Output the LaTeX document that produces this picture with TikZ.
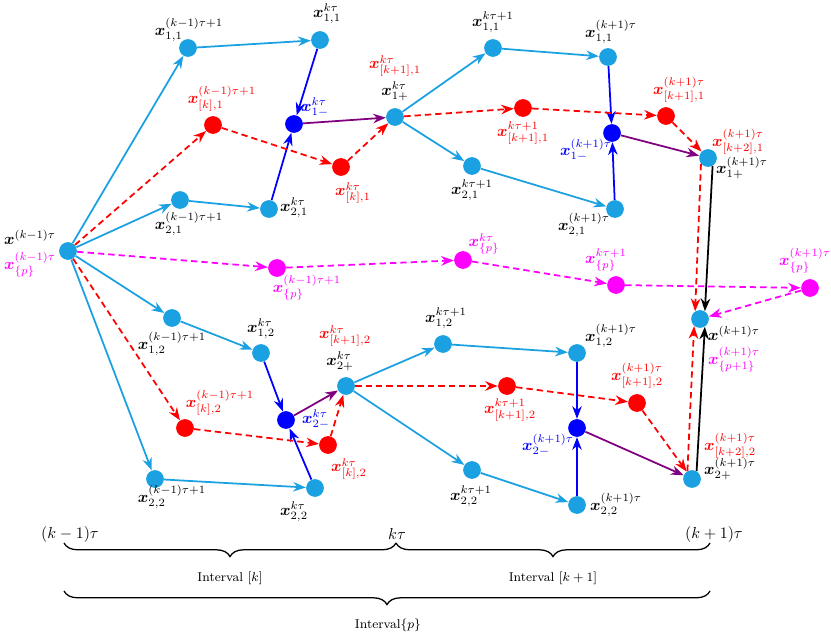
\documentclass[tikz,border=0pt]{standalone}
\usepackage{amsmath}
\usepackage{amssymb}
\usepackage{bm}
\usetikzlibrary{arrows.meta, positioning, decorations.pathreplacing}

\definecolor{ptcyan}{RGB}{27,161,226}
\definecolor{ptpurple}{RGB}{128,0,128}
\definecolor{ptmagenta}{RGB}{255,0,255}
\newcommand{\vx}{\boldsymbol{x}}

\tikzset{
    pt/.style={circle,fill=ptcyan,minimum size=0.39cm,inner sep=0pt},
    ptblue/.style={pt,fill=blue},
    ptred/.style={pt,fill=red},
    ptmag/.style={pt,fill=ptmagenta},
    lbl/.style={inner sep=0pt},
    cy/.style={-{Stealth},line width=1.1pt,ptcyan},
    bl/.style={-{Stealth},line width=1.1pt,blue},
    pu/.style={-{Stealth},line width=1.1pt,ptpurple},
    bk/.style={-{Stealth},line width=1.1pt,black},
    rd/.style={-{Stealth},line width=1.1pt,red,dash pattern=on 4pt off 2.5pt},
    mg/.style={-{Stealth},line width=1.1pt,ptmagenta,dash pattern=on 4pt off 2.5pt},
    brc/.style={decorate,decoration={brace,mirror,amplitude=8.5pt},thick}
}

\begin{document}
\begin{tikzpicture}[x=0.022cm,y=-0.022cm]
    \useasboundingbox (0,0) rectangle (831,636);

    % Punto iniziale
    \node[pt] (A0) at (68,251) {};
    \node[lbl] (A0l) at ([shift={(-38,-14)}]A0) {$\vx^{(k-1)\tau}$};
    \node[lbl,ptmagenta] (A0p) at ([shift={(-38,14)}]A0) {$\vx^{(k-1)\tau}_{\{p\}}$};

    % Intervallo [k], gruppo 1
    \node[pt] (a11) at (188,48) {};
    \node[lbl] (a11l) at ([shift={(1,-18)}]a11) {$\vx^{(k-1)\tau+1}_{1,1}$};
    \node[pt] (a21) at (180,200) {};
    \node[lbl] (a21l) at ([shift={(9,24)}]a21) {$\vx^{(k-1)\tau+1}_{2,1}$};
    \node[ptred] (r1) at (213,125) {};
    \node[lbl,red] (r1l) at ([shift={(9,-26)}]r1) {$\vx^{(k-1)\tau+1}_{[k],1}$};
    \node[pt] (b11) at (320,40) {};
    \node[lbl] (b11l) at ([shift={(7,-26)}]b11) {$\vx^{k\tau}_{1,1}$};
    \node[pt] (b21) at (269,209) {};
    \node[lbl] (b21l) at ([shift={(25,-1)}]b21) {$\vx^{k\tau}_{2,1}$};
    \node[ptblue] (m1) at (294,124) {};
    \node[lbl,blue] (m1l) at ([shift={(21,-17)}]m1) {$\vx^{k\tau}_{1-}$};
    \node[ptred] (r2) at (341,167) {};
    \node[lbl,red] (r2l) at ([shift={(12,26)}]r2) {$\vx^{k\tau}_{[k],1}$};
    \node[pt] (p1) at (395,117) {};
    \node[lbl,red] (p1r) at ([shift={(0,-51)}]p1) {$\vx^{k\tau}_{[k+1],1}$};
    \node[lbl] (p1l) at ([shift={(0,-26)}]p1) {$\vx^{k\tau}_{1+}$};

    % Intervallo [k+1], gruppo 1
    \node[pt] (c11) at (493,48) {};
    \node[lbl] (c11l) at ([shift={(0,-26)}]c11) {$\vx^{k\tau+1}_{1,1}$};
    \node[pt] (c21) at (472,166) {};
    \node[lbl] (c21l) at ([shift={(0,24)}]c21) {$\vx^{k\tau+1}_{2,1}$};
    \node[ptred] (r3) at (523,108) {};
    \node[lbl,red] (r3l) at ([shift={(0,25)}]r3) {$\vx^{k\tau+1}_{[k+1],1}$};
    \node[pt] (d11) at (608,57) {};
    \node[lbl] (d11l) at ([shift={(3,-25)}]d11) {$\vx^{(k+1)\tau}_{1,1}$};
    \node[pt] (d21) at (615,209) {};
    \node[lbl] (d21l) at ([shift={(-31,16)}]d21) {$\vx^{(k+1)\tau}_{2,1}$};
    \node[ptblue] (m3) at (612,133) {};
    \node[lbl,blue] (m3l) at ([shift={(-26,17)}]m3) {$\vx^{(k+1)\tau}_{1-}$};
    \node[ptred] (r4) at (666,116) {};
    \node[lbl,red] (r4l) at ([shift={(13,-26)}]r4) {$\vx^{(k+1)\tau}_{[k+1],1}$};
    \node[pt] (q1) at (708,158) {};
    \node[lbl,red] (q1r) at ([shift={(30,-16)}]q1) {$\vx^{(k+1)\tau}_{[k+2],1}$};
    \node[lbl] (q1l) at ([shift={(34,10)}]q1) {$\vx^{(k+1)\tau}_{1+}$};

    % Intervallo {p}
    \node[ptmag] (g1) at (277,268) {};
    \node[lbl,ptmagenta] (g1l) at ([shift={(30,20)}]g1) {$\vx^{(k-1)\tau+1}_{\{p\}}$};
    \node[ptmag] (g2) at (463,260) {};
    \node[lbl,ptmagenta] (g2l) at ([shift={(21,-16)}]g2) {$\vx^{k\tau}_{\{p\}}$};
    \node[ptmag] (g3) at (616,285) {};
    \node[lbl,ptmagenta] (g3l) at ([shift={(-10,-25)}]g3) {$\vx^{k\tau+1}_{\{p\}}$};
    \node[ptmag] (g4) at (810,288) {};
    \node[lbl,ptmagenta] (g4l) at ([shift={(-5,-27)}]g4) {$\vx^{(k+1)\tau}_{\{p\}}$};

    % Punto finale
    \node[pt] (F) at (700,319) {};
    \node[lbl] (Fl) at ([shift={(34,14)}]F) {$\vx^{(k+1)\tau}$};
    \node[lbl,ptmagenta] (Fp) at ([shift={(34,41)}]F) {$\vx^{(k+1)\tau}_{\{p+1\}}$};

    % Intervallo [k], gruppo 2
    \node[pt] (a12) at (172,318) {};
    \node[lbl] (a12l) at ([shift={(0,26)}]a12) {$\vx^{(k-1)\tau+1}_{1,2}$};
    \node[pt] (a22) at (155,479) {};
    \node[lbl] (a22l) at ([shift={(17,18)}]a22) {$\vx^{(k-1)\tau+1}_{2,2}$};
    \node[ptred] (s1) at (185,428) {};
    \node[lbl,red] (s1l) at ([shift={(35,-25)}]s1) {$\vx^{(k-1)\tau+1}_{[k],2}$};
    \node[pt] (b12) at (261,353) {};
    \node[lbl] (b12l) at ([shift={(0,-24)}]b12) {$\vx^{k\tau}_{1,2}$};
    \node[pt] (b22) at (315,488) {};
    \node[lbl] (b22l) at ([shift={(-21,24)}]b22) {$\vx^{k\tau}_{2,2}$};
    \node[ptblue] (m2) at (286,420) {};
    \node[lbl,blue] (m2l) at ([shift={(30,-1)}]m2) {$\vx^{k\tau}_{2-}$};
    \node[ptred] (s2) at (328,445) {};
    \node[lbl,red] (s2l) at ([shift={(21,24)}]s2) {$\vx^{k\tau}_{[k],2}$};
    \node[pt] (p2) at (346,386) {};
    \node[lbl,red] (p2r) at ([shift={(-1,-50)}]p2) {$\vx^{k\tau}_{[k+1],2}$};
    \node[lbl] (p2l) at ([shift={(-6,-25)}]p2) {$\vx^{k\tau}_{2+}$};

    % Intervallo [k+1], gruppo 2
    \node[pt] (c12) at (443,344) {};
    \node[lbl] (c12l) at ([shift={(3,-26)}]c12) {$\vx^{k\tau+1}_{1,2}$};
    \node[pt] (c22) at (472,470) {};
    \node[lbl] (c22l) at ([shift={(-1,26)}]c22) {$\vx^{k\tau+1}_{2,2}$};
    \node[ptred] (s3) at (507,386) {};
    \node[lbl,red] (s3l) at ([shift={(3,24)}]s3) {$\vx^{k\tau+1}_{[k+1],2}$};
    \node[pt] (d12) at (577,353) {};
    \node[lbl] (d12l) at ([shift={(34,-17)}]d12) {$\vx^{(k+1)\tau}_{1,2}$};
    \node[pt] (d22) at (577,505) {};
    \node[lbl] (d22l) at ([shift={(39,0)}]d22) {$\vx^{(k+1)\tau}_{2,2}$};
    \node[ptblue] (m4) at (577,428) {};
    \node[lbl,blue] (m4l) at ([shift={(-29,17)}]m4) {$\vx^{(k+1)\tau}_{2-}$};
    \node[ptred] (s4) at (637,403) {};
    \node[lbl,red] (s4l) at ([shift={(0,-27)}]s4) {$\vx^{(k+1)\tau}_{[k+1],2}$};
    \node[pt] (q2) at (692,479) {};
    \node[lbl,red] (q2r) at ([shift={(38,-33)}]q2) {$\vx^{(k+1)\tau}_{[k+2],2}$};
    \node[lbl] (q2l) at ([shift={(38,-10)}]q2) {$\vx^{(k+1)\tau}_{2+}$};

    % Frecce azzurre
    \draw[cy] (A0) -- (a11);
    \draw[cy] (A0) -- (a21);
    \draw[cy] (A0) -- (a12);
    \draw[cy] (A0) -- (a22);
    \draw[cy] (a11) -- (b11);
    \draw[cy] (a21) -- (b21);
    \draw[cy] (a12) -- (b12);
    \draw[cy] (a22) -- (b22);
    \draw[cy] (p1) -- (c11);
    \draw[cy] (p1) -- (c21);
    \draw[cy] (p2) -- (c12);
    \draw[cy] (p2) -- (c22);
    \draw[cy] (c11) -- (d11);
    \draw[cy] (c21) -- (d21);
    \draw[cy] (c12) -- (d12);
    \draw[cy] (c22) -- (d22);

    % Frecce blu
    \draw[bl] (b11) -- (m1);
    \draw[bl] (b21) -- (m1);
    \draw[bl] (b12) -- (m2);
    \draw[bl] (b22) -- (m2);
    \draw[bl] (d11) -- (m3);
    \draw[bl] (d21) -- (m3);
    \draw[bl] (d12) -- (m4);
    \draw[bl] (d22) -- (m4);

    % Frecce viola
    \draw[pu] (m1) -- (p1);
    \draw[pu] (m2) -- (p2);
    \draw[pu] (m3) -- (q1);
    \draw[pu] (m4) -- (q2);

    % Frecce rosse tratteggiate
    \draw[rd] (A0) -- (r1);
    \draw[rd] (r1) -- (r2);
    \draw[rd] (r2) -- (p1);
    \draw[rd] (p1) -- (r3);
    \draw[rd] (r3) -- (r4);
    \draw[rd] (r4) -- (q1);
    \draw[rd] (A0) -- (s1);
    \draw[rd] (s1) -- (s2);
    \draw[rd] (s2) -- (p2);
    \draw[rd] (p2) -- (s3);
    \draw[rd] (s3) -- (s4);
    \draw[rd] (s4) -- (q2);
    \draw[rd] (q1.220) -- (F.122);
    \draw[rd] (q2.120) -- (F.230);

    % Frecce nere
    \draw[bk] (q1.300) -- (F.58);
    \draw[bk] (q2.60) -- (F.302);

    % Frecce magenta tratteggiate
    \draw[mg] (A0) -- (g1);
    \draw[mg] (g1) -- (g2);
    \draw[mg] (g2) -- (g3);
    \draw[mg] (g3) -- (g4);
    \draw[mg] (g4) -- (F);

    % Graffe
    \coordinate (tL) at (64,543);
    \coordinate (tM) at (396,543);
    \coordinate (tR) at (710,543);
    \coordinate (bL) at (64,591);
    \coordinate (bR) at (710,591);
    \node (tLl) at (70,534) {$(k-1)\tau$};
    \node (tMl) at (397,534) {$k\tau$};
    \node (tRl) at (714,534) {$(k+1)\tau$};
    \draw[brc] (tL) -- (tM);
    \draw[brc] (tM) -- (tR);
    \draw[brc] (bL) -- (bR);
    \node[font=\footnotesize] (ik) at (230,578) {Interval $[k]$};
    \node[font=\footnotesize] (ik1) at (553,578) {Interval $[k+1]$};
    \node[font=\footnotesize] (ip) at (388,625) {Interval$\{p\}$};
\end{tikzpicture}
\end{document}
